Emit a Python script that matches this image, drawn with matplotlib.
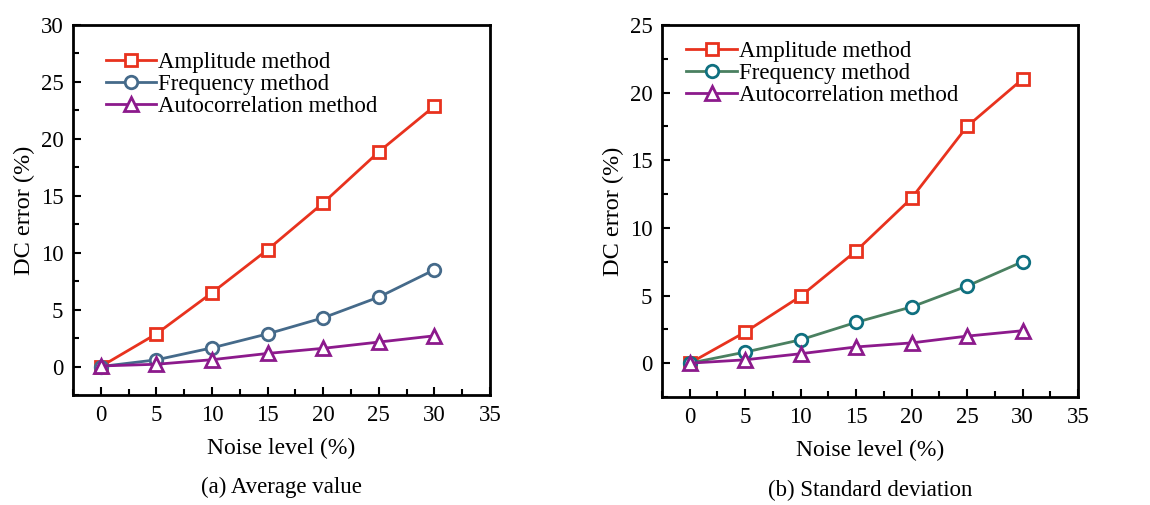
import matplotlib.pyplot as plt
from matplotlib.ticker import MultipleLocator

plt.rcParams['font.family'] = ['Liberation Serif', 'DejaVu Serif']
plt.rcParams['mathtext.fontset'] = 'stix'

noise = [0, 5, 10, 15, 20, 25, 30]

# (a) average value
avg_amp = [0.0, 2.87, 6.48, 10.26, 14.37, 18.86, 22.87]
avg_freq = [0.0, 0.59, 1.64, 2.87, 4.28, 6.1, 8.5]
avg_auto = [0.05, 0.2, 0.6, 1.15, 1.6, 2.15, 2.7]

# (b) standard deviation
std_amp = [0.0, 2.3, 4.95, 8.3, 12.2, 17.5, 21.0]
std_freq = [0.0, 0.82, 1.73, 3.02, 4.16, 5.7, 7.5]
std_auto = [0.0, 0.25, 0.7, 1.2, 1.5, 2.0, 2.4]

labels = ['Amplitude method', 'Frequency method', 'Autocorrelation method']
captions = ['(a) Average value', '(b) Standard deviation']

red = '#e8321e'
purple = '#8c1a8c'

fig = plt.figure(figsize=(11.5, 5.05), dpi=100)
ax1 = fig.add_axes([73 / 1150, 110 / 505, 417 / 1150, 370 / 505])
ax2 = fig.add_axes([662 / 1150, 108 / 505, 416 / 1150, 372 / 505])


def draw(ax, amp, freq, auto, freq_line, freq_edge, ytop, caption):
    ms, mew, lw = 9, 2, 2
    ax.plot(noise, amp, color=red, lw=lw, marker='s', ms=ms, mfc='white',
            mec=red, mew=mew, label=labels[0])
    ax.plot(noise, freq, color=freq_line, lw=lw, marker='o', ms=ms, mfc='white',
            mec=freq_edge, mew=mew, label=labels[1])
    ax.plot(noise, auto, color=purple, lw=lw, marker='^', ms=ms + 1, mfc='white',
            mec=purple, mew=mew, label=labels[2])
    ax.set_xlim(-2.5, 35)
    ax.set_ylim(-2.5, ytop)
    ax.xaxis.set_major_locator(MultipleLocator(5))
    ax.xaxis.set_minor_locator(MultipleLocator(2.5))
    ax.yaxis.set_major_locator(MultipleLocator(5))
    ax.yaxis.set_minor_locator(MultipleLocator(2.5))
    ax.tick_params(which='both', direction='in', top=False, right=False,
                   labelsize=16.5, width=1.5)
    ax.tick_params(which='major', length=6, pad=7)
    ax.tick_params(which='minor', length=4)
    for s in ax.spines.values():
        s.set_linewidth(2)
    ax.set_xlabel('Noise level (%)', fontsize=17, labelpad=9)
    ax.set_ylabel('DC error (%)', fontsize=17.5, labelpad=4)
    ax.legend(loc='upper left', frameon=False, fontsize=16.5, handlelength=2.2,
              handletextpad=0.1, labelspacing=0.03, borderaxespad=0.3,
              bbox_to_anchor=(0.04, 0.97))
    ax.text(0.5, -0.25, caption, transform=ax.transAxes, ha='center',
            va='center', fontsize=16.5)


draw(ax1, avg_amp, avg_freq, avg_auto, '#456a8a', '#456a8a', 30, captions[0])
draw(ax2, std_amp, std_freq, std_auto, '#4a8060', '#0f7080', 25, captions[1])
ax2.legend_.set_bbox_to_anchor((0.02, 1.0))

fig.savefig('out.png', dpi=100)
